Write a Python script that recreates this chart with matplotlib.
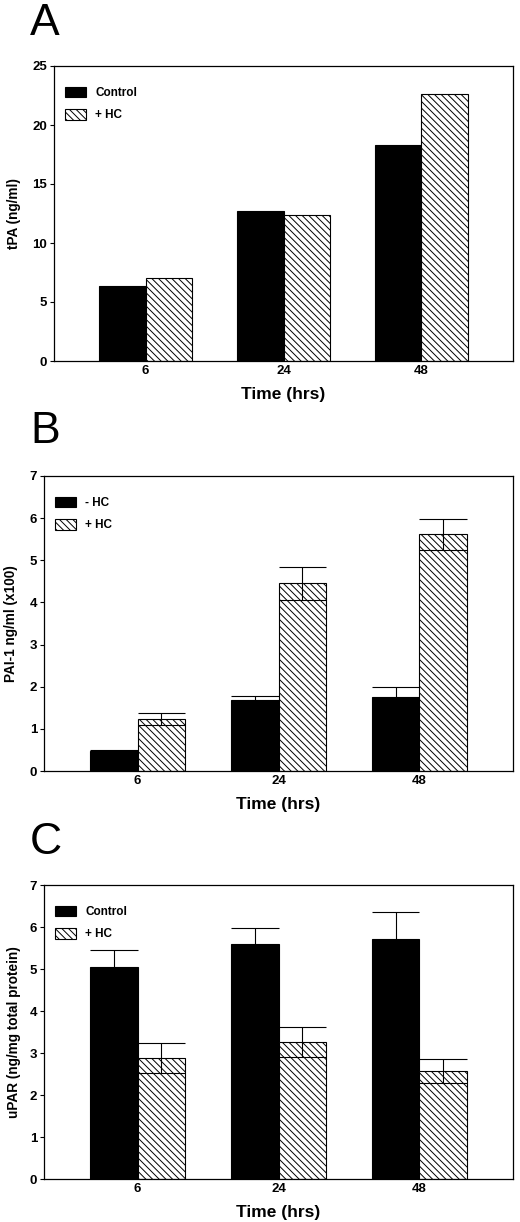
import matplotlib
matplotlib.use("Agg")
import matplotlib.pyplot as plt
import numpy as np

# ---------- DATA ----------
times = ["6", "24", "48"]

# panel A: tPA (ng/ml)
tpa_control = [6.35, 12.7, 18.3]
tpa_hc = [7.05, 12.35, 22.65]

# panel B: PAI-1 ng/ml (x100)
pai_minus_hc = [0.47, 1.68, 1.76]
pai_minus_hc_err = [0.04, 0.11, 0.24]
pai_plus_hc = [1.24, 4.45, 5.62]
pai_plus_hc_err = [0.14, 0.40, 0.37]

# panel C: uPAR (ng/mg total protein)
upar_control = [5.05, 5.60, 5.71]
upar_control_err = [0.40, 0.37, 0.65]
upar_hc = [2.88, 3.26, 2.57]
upar_hc_err = [0.35, 0.36, 0.29]
# ---------------------------

plt.rcParams['font.family'] = ['Liberation Sans', 'DejaVu Sans']
plt.rcParams['hatch.linewidth'] = 0.7
plt.rcParams['axes.linewidth'] = 0.9

W, H = 520, 1222
fig = plt.figure(figsize=(W / 100, H / 100), dpi=100)

bar_w = 0.335
hatch = '\\\\\\\\\\'


def px_axes(left, right, top, bottom):
    return fig.add_axes([left / W, 1 - bottom / H, (right - left) / W, (bottom - top) / H])


def panel(ax, dark, light, dark_err, light_err, labels, ylabel, ymax, ystep, ylab_x):
    x = np.arange(len(times))
    xd = x - bar_w / 2
    xl = x + bar_w / 2
    ax.bar(xd, dark, bar_w, color='black', edgecolor='black', linewidth=0.8, label=labels[0])
    ax.bar(xl, light, bar_w, color='white', edgecolor='black', linewidth=0.8,
           hatch=hatch, label=labels[1])
    for xs, vals, errs in ((xd, dark, dark_err), (xl, light, light_err)):
        if errs is None:
            continue
        vals = np.array(vals)
        errs = np.array(errs)
        ax.errorbar(xs, vals, yerr=errs, fmt='none', ecolor='black', elinewidth=0.8, capsize=0)
        ax.hlines(vals + errs, xs - bar_w / 2, xs + bar_w / 2, color='black', linewidth=0.8)
        ax.hlines(vals - errs, xs - bar_w / 2, xs + bar_w / 2, color='black', linewidth=0.8)
    ax.set_xlim(-0.665, 2.665)
    ax.set_ylim(0, ymax)
    ax.set_yticks(np.arange(0, ymax + 0.01, ystep))
    ax.set_xticks(x)
    ax.set_xticklabels(times)
    ax.tick_params(axis='x', length=0, pad=3, labelsize=9.5)
    ax.tick_params(axis='y', direction='out', length=3, width=0.8, pad=2, labelsize=9.5)
    for lab in ax.get_xticklabels() + ax.get_yticklabels():
        lab.set_fontweight('bold')
    ax.set_xlabel("Time (hrs)", fontsize=12.5, fontweight='bold', labelpad=7)
    ax.set_ylabel(ylabel, fontsize=9.8, fontweight='bold')
    ax.yaxis.set_label_coords(ylab_x, 0.5)
    ax.legend(loc='upper left', bbox_to_anchor=(-0.006, 0.978), frameon=False,
              handlelength=1.78, handleheight=1.0, handletextpad=0.76,
              labelspacing=0.85, borderaxespad=0.8,
              prop={'size': 8.5, 'weight': 'bold'})


axA = px_axes(54, 513, 66, 361)
panel(axA, tpa_control, tpa_hc, None, None, ["Control", "+ HC"], "tPA (ng/ml)", 25, 5,
      (21 - 54) / 459)

axB = px_axes(44, 513, 476, 771)
panel(axB, pai_minus_hc, pai_plus_hc, pai_minus_hc_err, pai_plus_hc_err,
      ["- HC", "+ HC"], "PAI-1 ng/ml (x100)", 7, 1, (18 - 44) / 469)

axC = px_axes(44, 513, 885, 1179)
panel(axC, upar_control, upar_hc, upar_control_err, upar_hc_err,
      ["Control", "+ HC"], "uPAR (ng/mg total protein)", 7, 1, (21 - 44) / 469)

fig.text(30 / W, 1 - 35 / H, "A", fontsize=32, va='baseline', ha='left')
fig.text(30 / W, 1 - 443 / H, "B", fontsize=32, va='baseline', ha='left')
fig.text(30 / W, 1 - 854 / H, "C", fontsize=32, va='baseline', ha='left')

fig.savefig("out.png", dpi=100)
